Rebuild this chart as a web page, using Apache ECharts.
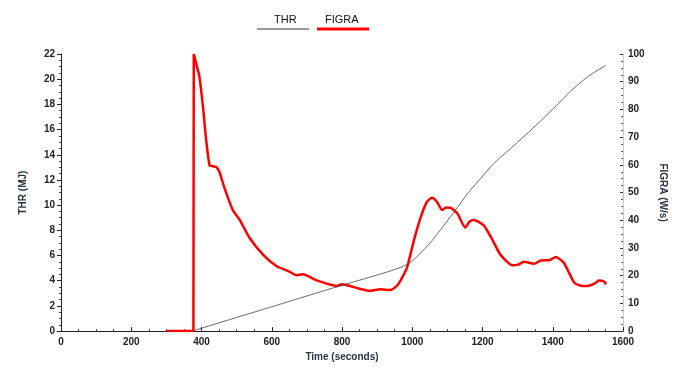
<!DOCTYPE html>
<html>
<head>
<meta charset="utf-8">
<script src="https://cdn.jsdelivr.net/npm/echarts@6/dist/echarts.min.js"></script>
<style>html,body{margin:0;padding:0;background:#fff}#c{width:686px;height:367px}</style>
</head>
<body>
<div id="c"></div>
<script>
var legendNames = ['THR', 'FIGRA'];
var xTicks = [0, 200, 400, 600, 800, 1000, 1200, 1400, 1600];

var thrTime = [373, 500, 600, 700, 800, 900, 966, 994, 1020, 1051, 1090, 1128, 1160, 1194, 1232, 1280, 1320, 1366, 1410, 1451, 1500, 1551];
var thrValues = [0, 1.08, 1.93, 2.79, 3.64, 4.45, 5.05, 5.44, 6.1, 7.0, 8.4, 9.8, 11.0, 12.1, 13.3, 14.5, 15.5, 16.7, 17.9, 19.05, 20.2, 21.1];

var figraTime = [300, 377, 378, 386, 394, 404, 413, 423, 432, 442, 451, 466, 489, 509, 537, 575, 613, 650, 670, 689, 728, 785, 799, 823, 850, 880, 909, 937, 956, 966, 985, 1004, 1023, 1042, 1056, 1070, 1085, 1096, 1109, 1128, 1151, 1163, 1175, 1204, 1228, 1251, 1285, 1300, 1318, 1347, 1366, 1390, 1409, 1432, 1461, 1480, 1499, 1520, 1532, 1545, 1551];
var figraValues = [0, 0, 100, 96, 91.9, 81.2, 69.3, 59.8, 59.5, 59.2, 57.4, 51.4, 43.7, 40.1, 33.6, 27.6, 23.5, 21.5, 20.2, 20.5, 18.3, 16.3, 16.9, 16.3, 15.3, 14.5, 15.1, 14.8, 16.3, 18.1, 22.9, 32.4, 40.7, 46.7, 48.1, 46.7, 43.7, 44.6, 44.5, 42.5, 37.4, 39.5, 40.1, 38.1, 33.0, 27.6, 23.8, 23.9, 25.0, 24.3, 25.5, 25.6, 26.7, 24.6, 17.5, 16.4, 16.3, 17.2, 18.3, 18.0, 16.9];

function pairs(xs, ys) { return xs.map(function (x, i) { return [x, ys[i]]; }); }

var chart = echarts.init(document.getElementById('c'), null, { renderer: 'canvas' });
var lbl = { color: '#222', fontSize: 10, fontWeight: 'bold', fontFamily: 'Liberation Sans, Arial, sans-serif' };
var nameSty = { color: '#2a3340', fontSize: 10, fontWeight: 'bold', fontFamily: 'Liberation Sans, Arial, sans-serif' };
var legFont = '11px "Liberation Sans Narrow", "Arial Narrow", "Liberation Sans", sans-serif';

chart.setOption({
  animation: false,
  backgroundColor: '#fff',
  grid: { left: 61, right: 63, top: 54, bottom: 33, containLabel: false },
  graphic: [
    { type: 'text', left: 274, top: 14, style: { text: legendNames[0], fill: '#111', font: legFont } },
    { type: 'line', shape: { x1: 257, y1: 29, x2: 309, y2: 29 }, style: { stroke: '#333', lineWidth: 1 } },
    { type: 'text', left: 325, top: 14, style: { text: legendNames[1], fill: '#111', font: legFont } },
    { type: 'line', shape: { x1: 317, y1: 29, x2: 369, y2: 29 }, style: { stroke: '#ff0000', lineWidth: 3 } }
  ],
  xAxis: {
    type: 'value', min: 0, max: 1600, interval: 200,
    name: 'Time (seconds)', nameLocation: 'middle', nameGap: 20, nameTextStyle: nameSty,
    axisLine: { lineStyle: { color: '#222', width: 1 } },
    axisTick: { inside: true, length: 4, lineStyle: { color: '#222' } },
    minorTick: { show: true, splitNumber: 4, length: 2, lineStyle: { color: '#444' } },
    axisLabel: Object.assign({ margin: 6, formatter: function (v) { return xTicks.indexOf(v) >= 0 ? String(v) : ''; } }, lbl),
    splitLine: { show: false }
  },
  yAxis: [
    {
      type: 'value', min: 0, max: 22, interval: 2, position: 'left',
      name: 'THR (MJ)', nameLocation: 'middle', nameGap: 33, nameRotate: 90, nameTextStyle: nameSty,
      axisLine: { show: true, lineStyle: { color: '#222', width: 1 } },
      axisTick: { show: true, length: 4, lineStyle: { color: '#222' } },
      minorTick: { show: true, splitNumber: 4, length: 2, lineStyle: { color: '#444' } },
      axisLabel: Object.assign({ margin: 6 }, lbl),
      splitLine: { show: false }
    },
    {
      type: 'value', min: 0, max: 100, interval: 10, position: 'right',
      name: 'FIGRA (W/s)', nameLocation: 'middle', nameGap: 35, nameRotate: -90, nameTextStyle: nameSty,
      axisLine: { show: true, lineStyle: { color: '#bbb', width: 1, type: 'dotted' } },
      axisTick: { show: true, inside: true, length: 3, lineStyle: { color: '#333' } },
      minorTick: { show: true, splitNumber: 4, length: 2, lineStyle: { color: '#555' } },
      axisLabel: Object.assign({ margin: 5 }, lbl),
      splitLine: { show: false }
    }
  ],
  series: [
    {
      name: legendNames[0], type: 'line', yAxisIndex: 0, showSymbol: false, symbol: 'none',
      data: pairs(thrTime, thrValues), smooth: 0.3,
      lineStyle: { color: '#444', width: 0.8 }, z: 3
    },
    {
      name: legendNames[1], type: 'line', yAxisIndex: 1, showSymbol: false, symbol: 'none',
      data: pairs(figraTime, figraValues), smooth: 0.2,
      lineStyle: { color: '#ff0000', width: 2.5 }, z: 2
    }
  ]
});
</script>
</body>
</html>
